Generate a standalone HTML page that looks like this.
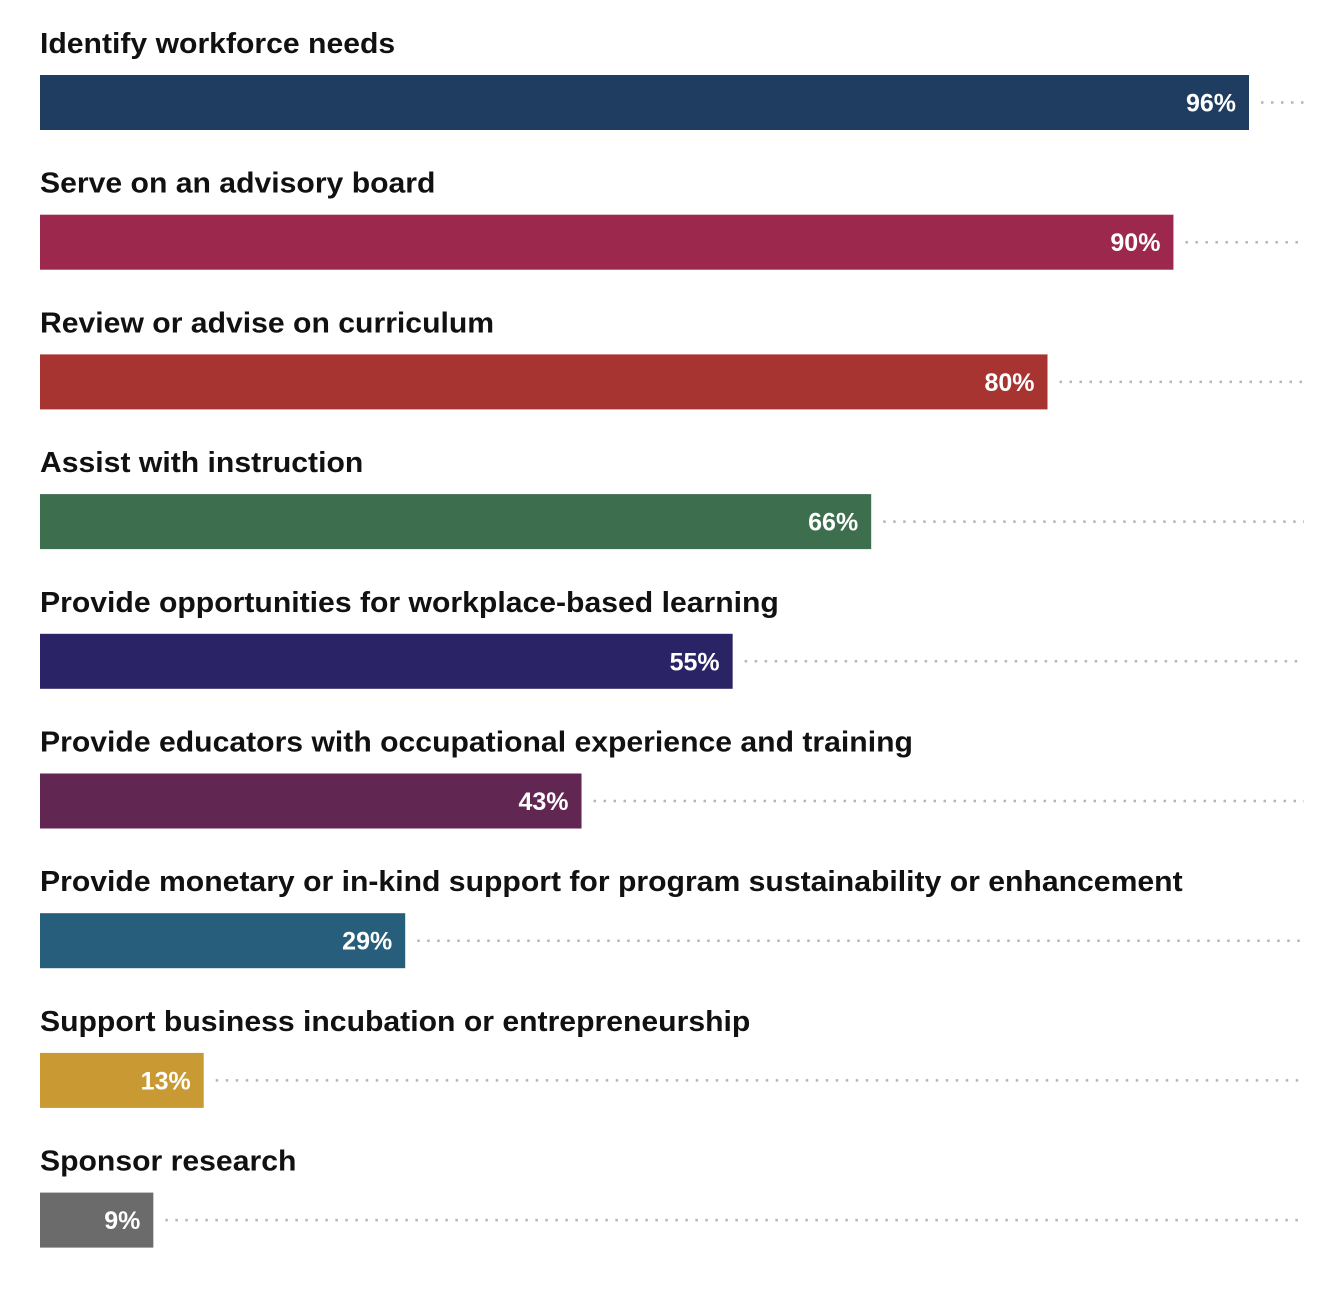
<!DOCTYPE html>
<html><head><meta charset="utf-8"><style>
html,body{margin:0;padding:0;background:#fff;}
svg{display:block;font-family:"Liberation Sans",Arial,sans-serif;}
</style></head><body>
<svg id="chart" width="1344" height="1296"></svg>
<script>
const categories = ["Identify workforce needs","Serve on an advisory board","Review or advise on curriculum","Assist with instruction","Provide opportunities for workplace-based learning","Provide educators with occupational experience and training","Provide monetary or in-kind support for program sustainability or enhancement","Support business incubation or entrepreneurship","Sponsor research"];
const values = [96, 90, 80, 66, 55, 43, 29, 13, 9];
const valueLabels = ["96%","90%","80%","66%","55%","43%","29%","13%","9%"];
const colors = ["#1f3d60","#9c284d","#a83432","#3d6e4e","#2a2466","#612651","#265e7b","#c99a34","#6b6b6b"];

const NS = "http://www.w3.org/2000/svg";
const svg = document.getElementById("chart");
const x0 = 40, xMaxPx = 1249, vMax = 96;
const xScale = v => x0 + (v / vMax) * (xMaxPx - x0);
const rowY = i => 75 + i * 139.7;
const barH = 55;

function mk(tag, attrs){const e=document.createElementNS(NS,tag);for(const k in attrs)e.setAttribute(k,attrs[k]);svg.appendChild(e);return e;}

categories.forEach((c,i)=>{
  const y = rowY(i);
  const xe = xScale(values[i]);
  const lab = mk("text",{x:x0,y:y-22,"font-size":"29","font-weight":"bold",fill:"#111",transform:`translate(${x0} 0) scale(1.04 1) translate(${-x0} 0)`});
  lab.textContent = c;
  
  
  const dl = mk("line",{x1:xe+12,x2:1304,y1:y+barH/2,y2:y+barH/2,stroke:"#b5b5b5","stroke-width":"2.5","stroke-dasharray":"2.5,7.5"});
  
  
  const r = mk("rect",{x:x0,y:y,width:xe-x0,height:barH,fill:colors[i]});
  
  
  const vt = mk("text",{x:xe-13,y:y+barH/2+9,"font-size":"25","font-weight":"bold",fill:"#fff","text-anchor":"end"});
  vt.textContent = valueLabels[i];
  
  
});
</script>
</body></html>
